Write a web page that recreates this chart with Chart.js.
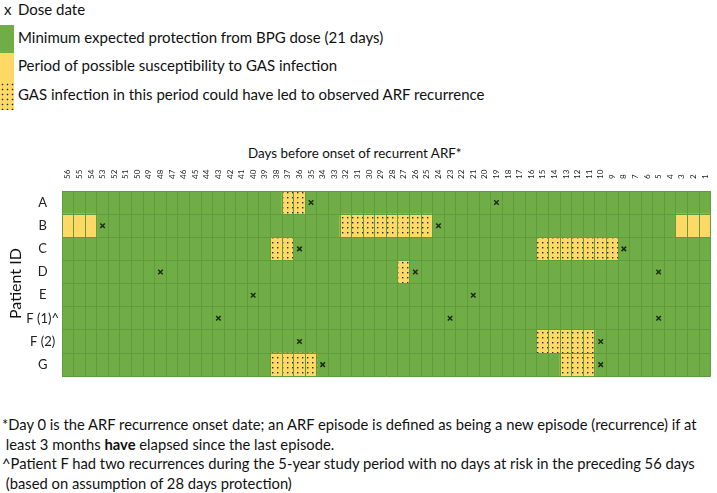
<!DOCTYPE html>
<html>
<head>
<meta charset="utf-8">
<script src="https://cdn.jsdelivr.net/npm/chart.js@4.4.1/dist/chart.umd.min.js"></script>
<style>
  body { margin: 0; width: 717px; height: 493px; background: #fff; position: relative; overflow: hidden;
         font-family: Lato, "Noto Sans", sans-serif; color: #111; }
  .legend { position: absolute; left: 0; top: 0; font-size: 15px; }
  .legend .sw { position: absolute; left: 0; width: 14px; }
  .legend .txt { position: absolute; left: 18px; white-space: nowrap; line-height: 20px; }
  .dots { background-color: #ffd966;
          background-image: radial-gradient(circle, #222 0.7px, transparent 1.1px);
          background-size: 5px 5px; }
  .xtitle { position: absolute; left: 248px; top: 145px; font-size: 13.4px; white-space: nowrap; }
  #wrap { position: absolute; left: 0; top: 140px; width: 717px; height: 247px; }
  .notes { position: absolute; left: 2px; top: 415px; font-size: 14.75px; line-height: 19.6px; white-space: nowrap; }
</style>
</head>
<body>
<div class="legend">
  <div class="txt" style="left:4px;top:-1px">x</div>
  <div class="txt" style="top:-1px">Dose date</div>
  <div class="sw" style="top:25px;height:28px;background:#70ad47"></div>
  <div class="txt" style="top:27px">Minimum expected protection from BPG dose (21 days)</div>
  <div class="sw" style="top:53px;height:29px;background:#ffd966"></div>
  <div class="txt" style="top:55px">Period of possible susceptibility to GAS infection</div>
  <div class="sw dots" style="top:82px;height:28px"></div>
  <div class="txt" style="top:84px">GAS infection in this period could have led to observed ARF recurrence</div>
</div>

<div class="xtitle">Days before onset of recurrent ARF*</div>
<div id="wrap"><canvas id="grid"></canvas></div>

<div class="notes">
  <div>*Day 0 is the ARF recurrence onset date; an ARF episode is defined as being a new episode (recurrence) if at</div>
  <div>&nbsp;least 3 months <b>have</b> elapsed since the last episode.</div>
  <div>^Patient F had two recurrences during the 5-year study period with no days at risk in the preceding 56 days</div>
  <div>&nbsp;(based on assumption of 28 days protection)</div>
</div>

<script>
// days before onset, left to right
const days = [56, 55, 54, 53, 52, 51, 50, 49, 48, 47, 46, 45, 44, 43, 42, 41, 40, 39, 38, 37,
              36, 35, 34, 33, 32, 31, 30, 29, 28, 27, 26, 25, 24, 23, 22, 21, 20, 19, 18, 17,
              16, 15, 14, 13, 12, 11, 10, 9, 8, 7, 6, 5, 4, 3, 2, 1];
const patients = ['A', 'B', 'C', 'D', 'E', 'F (1)^', 'F (2)', 'G'];

// day of each BPG dose, per patient row
const doseDates = [[35, 19], [53, 24], [36, 8], [48, 26, 5], [40, 21], [43, 23, 5], [36, 10], [34, 10]];
// [from, to] day ranges: possible susceptibility (plain yellow)
const susceptible = [[], [[56, 54], [3, 1]], [], [], [], [], [], []];
// [from, to] day ranges: infection could have led to recurrence (dotted yellow)
const atRisk = [[[37, 36]], [[32, 25]], [[38, 37], [15, 9]], [[27, 27]], [], [], [[15, 11]], [[38, 35], [13, 11]]];

const GREEN = '#70ad47', YELLOW = '#ffd966', LINE = '#5f9c3e';
const TICK_FONT = 8;

function dotPattern() {
    const c = document.createElement('canvas');
    c.width = 5; c.height = 5;
    const g = c.getContext('2d');
    g.fillStyle = YELLOW; g.fillRect(0, 0, 5, 5);
    g.fillStyle = '#2a2a2a'; g.fillRect(2, 2, 1.4, 1.4);
    return g.createPattern(c, 'repeat');
}

// one dataset per "nth segment in a row" since a floating bar gives one bar per category
function segmentSets(ranges, label, fill, order) {
    const n = Math.max(...ranges.map(r => r.length));
    const out = [];
    for (let k = 0; k < n; k++) {
        out.push({
            label: label, order: order,
            data: patients.map((p, i) => ranges[i][k] ? [ranges[i][k][1] - 0.5, ranges[i][k][0] + 0.5] : null),
            backgroundColor: fill, borderWidth: 0,
            barPercentage: 1, categoryPercentage: 1, grouped: false
        });
    }
    return out;
}

const dots = dotPattern();
const datasets = [
    {
        type: 'scatter', label: 'Dose date', order: 0,
        data: doseDates.flatMap((row, i) => row.map(d => ({ x: d, y: patients[i] }))),
        pointStyle: 'crossRot', pointRadius: 3.2, borderColor: '#1d2b14', borderWidth: 1.5,
        backgroundColor: '#1d2b14'
    },
    ...segmentSets(atRisk, 'at risk', dots, 4),
    ...segmentSets(susceptible, 'susceptible', YELLOW, 5),
    {
        label: 'protected', order: 10,
        data: patients.map(() => [0.5, 56.5]),
        backgroundColor: GREEN, borderWidth: 0,
        barPercentage: 1, categoryPercentage: 1, grouped: false
    }
];

new Chart(document.getElementById('grid'), {
    type: 'bar',
    data: { labels: patients, datasets: datasets },
    options: {
        indexAxis: 'y',
        responsive: true, maintainAspectRatio: false, animation: false,
        layout: { padding: { right: 2, bottom: 2 } },
        plugins: { legend: { display: false }, tooltip: { enabled: false } },
        scales: {
            x: {
                type: 'linear', position: 'top', reverse: true, min: 0.5, max: 56.5,
                afterBuildTicks: s => { s.ticks = days.map(v => ({ value: v })); },
                afterFit: s => { s.height = 51; },
                grid: { display: false, drawTicks: false },
                border: { display: false },
                // rotated top labels get pulled left by one line height; push them back
                ticks: { autoSkip: false, minRotation: 90, maxRotation: 90, padding: 12,
                         labelOffset: TICK_FONT * 1.2, color: '#222',
                         font: { family: 'Lato', size: TICK_FONT } }
            },
            xg: {
                type: 'linear', position: 'top', reverse: true, min: 0.5, max: 56.5,
                afterBuildTicks: s => { s.ticks = days.map(v => ({ value: v + 0.5 })).concat([{ value: 0.5 }]); },
                afterFit: s => { s.height = 0; },
                grid: { color: LINE, lineWidth: 1, drawTicks: false, z: 1 },
                border: { display: false },
                ticks: { display: false }
            },
            y: {
                type: 'category',
                afterFit: s => { s.width = 62; },
                grid: { offset: true, color: LINE, lineWidth: 1, drawTicks: false, z: 1 },
                border: { display: false },
                ticks: { padding: 3, crossAlign: 'center', color: '#222', font: { family: 'Lato', size: 13 } },
                title: { display: true, text: 'Patient ID', color: '#111',
                         font: { family: 'Lato', size: 16 }, padding: { top: 6, bottom: 0 } }
            }
        }
    }
});
</script>
</body>
</html>
